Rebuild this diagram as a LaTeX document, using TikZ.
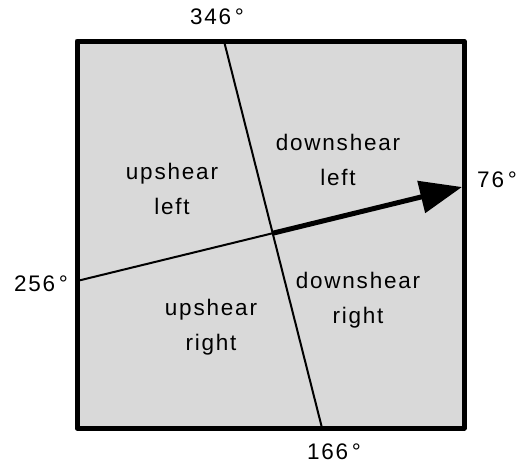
\documentclass[tikz,border=0pt]{standalone}
\usepackage{fontspec}
\setmainfont{Liberation Sans}[LetterSpace=8]
\usetikzlibrary{arrows.meta}
\definecolor{boxgray}{RGB}{217,217,217}
\begin{document}
\begin{tikzpicture}[x=1pt,y=-1pt,
  lab/.style={font=\fontsize{22.5}{35}\selectfont, align=center, inner sep=0pt},
  divider/.style={line width=2pt, draw=black}]
\useasboundingbox (0,0) rectangle (520,466);
\draw[line width=5pt, fill=boxgray, line join=round] (77,41) rectangle (464,428);
\coordinate (n) at (224,41);
\coordinate (s) at (322,428);
\coordinate (w) at (77,281);
\coordinate (e) at (462,187);
\coordinate (c) at (intersection of n--s and w--e);
\draw[divider] (n) -- (s);
\draw[divider] (w) -- (c);
\draw[line width=5pt, -{Triangle[length=42pt,width=32pt]}] (c) -- (e);
\node[lab] (l346) at (217,17) {346\,°};
\node[lab] (l166) at (334,452) {166\,°};
\node[lab] (l256) at (41,284) {256\,°};
\node[lab] (l76) at (497,180) {76\,°};
\node[lab] (ul) at (172,189) {upshear\\left};
\node[lab] (dl) at (338,160) {downshear\\left};
\node[lab] (ur) at (211,327) {upshear\\right};
\node[lab] (dr) at (358,300) {downshear\\right};
\end{tikzpicture}
\end{document}
